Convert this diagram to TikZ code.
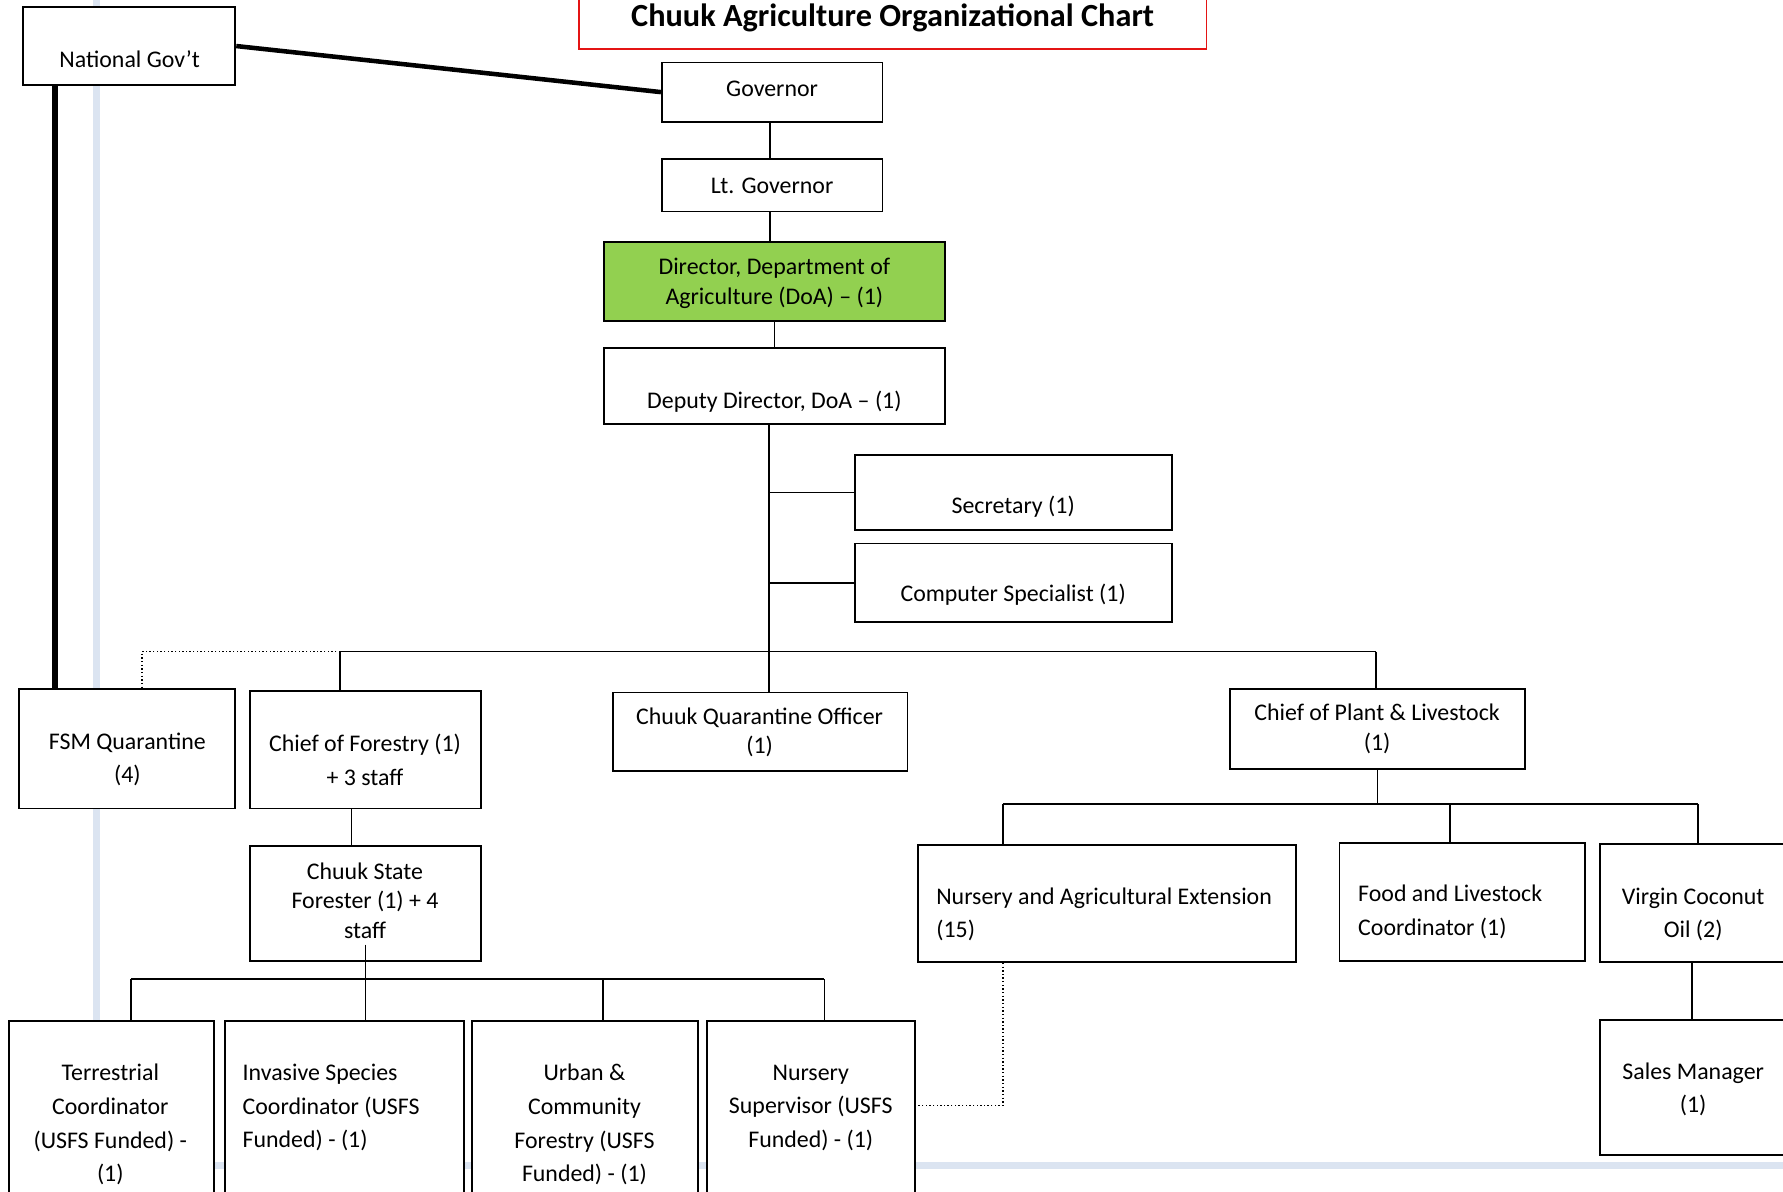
\documentclass[tikz,border=0pt]{standalone}
\usepackage{fontspec}
\setmainfont{Carlito}
\usetikzlibrary{fit}
\definecolor{dirgreen}{RGB}{146,208,80}
\definecolor{paleblue}{RGB}{219,228,241}
\definecolor{titlered}{RGB}{228,20,20}

\tikzset{
  box/.style={draw, line width=0.8pt, fill=white, inner sep=0pt},
  txt/.style={align=center, inner sep=0pt, font=\fontsize{10.5}{13}\selectfont},
  txtw/.style={align=center, inner sep=0pt, font=\fontsize{10.5}{14.75}\selectfont},
  conn/.style={line width=0.75pt},
  dotconn/.style={line width=0.6pt, densely dotted}
}

\begin{document}
\begin{tikzpicture}[x=0.5pt, y=-0.5pt]
    \fill[white] (0,0) rectangle (1568,1048);
    \useasboundingbox (0,0) rectangle (1568,1048);

    % Page rule behind the chart
    \draw[paleblue, line width=3pt] (85,0) -- (85,1025) -- (1580,1025);

    % Title
    \node[draw=titlered, line width=0.8pt, inner sep=0pt, fit={(509,-10) (1061,43)}] (title) {};
    \node[font=\fontsize{14.2}{16}\selectfont\bfseries] (titletxt) at (785,16) {Chuuk Agriculture Organizational Chart};

    % Boxes
    \node[box, fit={(20,6) (207,75)}] (natgov) {};
    \node[box, fit={(582,55) (776,107)}] (gov) {};
    \node[box, fit={(582,140) (776,186)}] (ltgov) {};
    \node[box, fill=dirgreen, line width=1pt, fit={(531,213) (831,282)}] (dir) {};
    \node[box, fit={(531,306) (831,373)}] (deputy) {};
    \node[box, fit={(752,400) (1031,466)}] (sec) {};
    \node[box, fit={(752,478) (1031,547)}] (comp) {};
    \node[box, fit={(17,606) (207,711)}] (fsmq) {};
    \node[box, fit={(220,608) (423,711)}] (forestry) {};
    \node[box, fit={(539,609) (798,678)}] (chuukq) {};
    \node[box, fit={(1082,606) (1341,676)}] (plant) {};
    \node[box, fit={(220,744) (423,845)}] (forester) {};
    \node[box, fit={(807,743) (1140,846)}] (nursext) {};
    \node[box, fit={(1178,741) (1394,845)}] (food) {};
    \node[box, fit={(1407,742) (1575,846)}] (vco) {};
    \node[box, fit={(1407,897) (1575,1016)}] (sales) {};
    \node[box, fit={(8,898) (188,1060)}] (terr) {};
    \node[box, fit={(198,898) (408,1060)}] (invasive) {};
    \node[box, fit={(415,898) (614,1060)}] (urban) {};
    \node[box, fit={(622,898) (805,1060)}] (nurssup) {};

    % Labels
    \node[txt] (natgovtxt) at (114,52) {National Gov’t};
    \node[txt] (govtxt) at (679,78) {Governor};
    \node[txt] (ltgovtxt) at (679,163) {Lt. Governor};
    \node[txt] (dirtxt) at (681,249) {Director, Department of\\Agriculture (DoA) – (1)};
    \node[txt] (deputytxt) at (681,353) {Deputy Director, DoA – (1)};
    \node[txt] (sectxt) at (891,446) {Secretary (1)};
    \node[txt] (comptxt) at (891,523) {Computer Specialist (1)};
    \node[txtw] (fsmqtxt) at (112,668) {FSM Quarantine\\(4)};
    \node[txtw] (forestrytxt) at (321,668) {Chief of Forestry (1)\\+ 3 staff};
    \node[txt] (chuukqtxt) at (668,644) {Chuuk Quarantine Officer\\(1)};
    \node[txt] (planttxt) at (1211,641) {Chief of Plant \& Livestock\\(1)};
    \node[txt] (forestertxt) at (321,792) {Chuuk State\\Forester (1) + 4\\staff};
    \node[txtw, align=left, anchor=west] (nursexttxt) at (823,804) {Nursery and Agricultural Extension\\(15)};
    \node[txtw, align=left, anchor=west] (foodtxt) at (1194,802) {Food and Livestock\\Coordinator (1)};
    \node[txtw] (vcotxt) at (1489,804) {Virgin Coconut\\Oil (2)};
    \node[txtw] (salestxt) at (1489,958) {Sales Manager\\(1)};
    \node[txtw] (terrtxt) at (97,989) {Terrestrial\\Coordinator\\(USFS Funded) -\\(1)};
    \node[txtw, align=left, anchor=west] (invasivetxt) at (213,974) {Invasive Species\\Coordinator (USFS\\Funded) - (1)};
    \node[txtw] (urbantxt) at (514,989) {Urban \&\\Community\\Forestry (USFS\\Funded) - (1)};
    \node[txtw] (nurssuptxt) at (713,974) {Nursery\\Supervisor (USFS\\Funded) - (1)};

    % Bus points
    \coordinate (natcol) at (48,0);
    \coordinate (govcol) at (677,0);
    \coordinate (trunk) at (676,573);
    \coordinate (fbus) at (299,573);
    \coordinate (pbus) at (1210,573);
    \coordinate (fsmdot) at (125,573);
    \coordinate (fcol) at (309,0);
    \coordinate (tbus) at (115,861);
    \coordinate (ubus) at (530,861);
    \coordinate (nbus) at (725,861);
    \coordinate (extbus) at (882,707);
    \coordinate (foodbus) at (1275,707);
    \coordinate (vcobus) at (1493,707);
    \coordinate (salescol) at (1488,0);

    % Connectors
    \draw[line width=2pt] (natgov.east) -- (gov.west);
    \draw[line width=2.6pt] (natgov.south -| natcol) -- (fsmq.north -| natcol);
    \draw[conn] (gov.south -| govcol) -- (ltgov.north -| govcol);
    \draw[conn] (ltgov.south -| govcol) -- (dir.north -| govcol);
    \draw[conn] (dir.south) -- (deputy.north);
    \draw[conn] (deputy.south -| trunk) -- (trunk);
    \draw[conn] (sec.west -| trunk) -- (sec.west);
    \draw[conn] (comp.west -| trunk) -- (comp.west);
    \draw[conn] (fbus) -- (pbus);
    \draw[conn] (fbus) -- (fbus |- forestry.north);
    \draw[conn] (trunk) -- (trunk |- chuukq.north);
    \draw[conn] (pbus) -- (pbus |- plant.north);
    \draw[dotconn] (fbus) -- (fsmdot) -- (fsmdot |- fsmq.north);
    \draw[conn] (forestry.south -| fcol) -- (forester.north -| fcol);
    \draw[conn] ([yshift=7.5pt]forester.south) -- (forester.south |- invasive.north);
    \draw[conn] (tbus) -- (nbus);
    \draw[conn] (tbus) -- (tbus |- terr.north);
    \draw[conn] (ubus) -- (ubus |- urban.north);
    \draw[conn] (nbus) -- (nbus |- nurssup.north);
    \draw[conn] (plant.south) -- (plant.south |- extbus);
    \draw[conn] (extbus) -- (vcobus);
    \draw[conn] (extbus) -- (extbus |- nursext.north);
    \draw[conn] (foodbus) -- (foodbus |- food.north);
    \draw[conn] (vcobus) -- (vcobus |- vco.north);
    \draw[dotconn] (nursext.south -| extbus) |- ([yshift=3.5pt]nurssup.east);
    \draw[conn] (vco.south -| salescol) -- (sales.north -| salescol);
\end{tikzpicture}
\end{document}
